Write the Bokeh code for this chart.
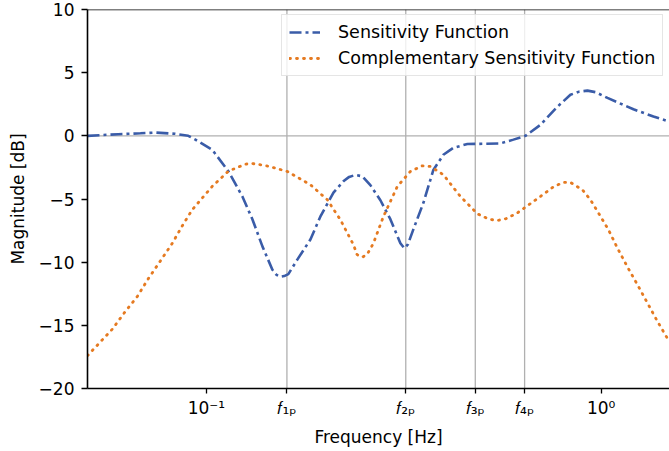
from bokeh.plotting import figure
from bokeh.models import Span, FixedTicker, Legend, LegendItem
from bokeh.embed import file_html
from bokeh.resources import INLINE

# Sensitivity function (blue, dash-dot)
freq_s = [0.050, 0.0598, 0.0681, 0.0743, 0.0834, 0.0900, 0.0938, 0.1035, 0.1137,
          0.1234, 0.1308, 0.1387, 0.1470, 0.1505, 0.1540, 0.1575, 0.1613, 0.1700,
          0.1835, 0.1944, 0.2099, 0.2224, 0.2300, 0.2384, 0.2484, 0.2603, 0.2760,
          0.2925, 0.3101, 0.3173, 0.3240, 0.3345, 0.3547, 0.3759, 0.3985, 0.4224,
          0.4584, 0.5031, 0.5556, 0.5995, 0.6431, 0.7018, 0.7749, 0.8360, 0.8800,
          0.9232, 0.9700, 1.0376, 1.2072, 1.3568, 1.4894]
sens_db = [0.0, 0.13, 0.2, 0.26, 0.16, 0.0, -0.3, -1.1, -2.8,
           -4.8, -6.6, -8.75, -10.6, -11.0, -11.15, -11.1, -10.95, -9.8,
           -8.2, -6.4, -4.5, -3.6, -3.25, -3.1, -3.2, -3.9, -5.1,
           -6.6, -8.5, -8.9, -8.6, -7.4, -5.3, -2.7, -1.5, -0.95,
           -0.65, -0.63, -0.6, -0.3, 0.0, 0.87, 2.3, 3.25, 3.5,
           3.58, 3.45, 3.0, 2.1, 1.53, 1.13]

# Complementary sensitivity function (orange, dotted)
freq_t = [0.050, 0.0532, 0.0578, 0.0620, 0.0669, 0.0713, 0.0765, 0.0820, 0.0870,
          0.0921, 0.1035, 0.1137, 0.1256, 0.1308, 0.1436, 0.1603, 0.1835, 0.2025,
          0.2185, 0.2357, 0.2408, 0.2484, 0.2553, 0.2650, 0.2808, 0.3047, 0.3287,
          0.3525, 0.3693, 0.3985, 0.4401, 0.4860, 0.5200, 0.5461, 0.5750, 0.6137,
          0.7018, 0.7600, 0.8026, 0.8360, 0.8966, 0.9395, 0.9844, 1.0435, 1.0997,
          1.1659, 1.2359, 1.3100, 1.3885, 1.4894]
comp_db = [-17.4, -16.5, -15.3, -14.0, -12.7, -11.3, -9.9, -8.5, -7.1,
           -5.85, -4.0, -2.8, -2.24, -2.19, -2.4, -2.82, -3.87, -5.06,
           -6.64, -8.6, -9.4, -9.6, -9.4, -8.5, -6.4, -4.0, -2.82,
           -2.37, -2.42, -3.08, -4.8, -6.17, -6.6, -6.7, -6.55, -6.1,
           -4.8, -4.0, -3.69, -3.69, -4.27, -5.06, -6.1, -7.43, -8.88,
           -10.38, -11.78, -13.23, -14.68, -16.3]

x_ticks = [0.1, 0.16, 0.32, 0.48, 0.64, 1.0]
x_tick_labels = ["10⁻¹", "𝑓₁ₚ", "𝑓₂ₚ", "𝑓₃ₚ", "𝑓₄ₚ", "10⁰"]
pole_freqs = [0.16, 0.32, 0.48, 0.64]
y_ticks = [-20, -15, -10, -5, 0, 5, 10]
y_tick_labels = ["−20", "−15", "−10", "−5", "0", "5", "10"]

FONT = "DejaVu Sans"
BLUE = "#3a5ca8"
ORANGE = "#e57a21"
GRID = "#b0b0b0"

p = figure(width=669, height=451, x_axis_type="log", x_range=(0.05, 1.49),
           y_range=(-20, 10), output_backend="svg", toolbar_location=None,
           min_border_left=87, min_border_right=0, min_border_top=9,
           min_border_bottom=63)
p.outline_line_color = None
p.grid.visible = False
p.background_fill_color = "white"
p.border_fill_color = "white"

for f in pole_freqs:
    p.add_layout(Span(location=f, dimension="height", line_color=GRID,
                      line_width=1.3, level="underlay"))
p.add_layout(Span(location=0, dimension="width", line_color=GRID,
                  line_width=1.3, level="underlay"))
# top spine
p.add_layout(Span(location=10, dimension="width", line_color="black",
                  line_width=1.6))

r1 = p.line(freq_s, sens_db, line_color=BLUE, line_width=2.6,
            line_dash="12 4 3 4")
r2 = p.line(freq_t, comp_db, line_color=ORANGE, line_width=2.8,
            line_dash="1 6", line_cap="round")

p.xaxis.ticker = FixedTicker(ticks=x_ticks, minor_ticks=[])
p.xaxis.major_label_overrides = {t: l for t, l in zip(x_ticks, x_tick_labels)}
p.yaxis.ticker = FixedTicker(ticks=y_ticks, minor_ticks=[])
p.yaxis.major_label_overrides = {t: l for t, l in zip(y_ticks, y_tick_labels)}

for ax in (p.xaxis[0], p.yaxis[0]):
    ax.axis_line_color = "black"
    ax.axis_line_width = 1.6
    ax.major_tick_line_color = "black"
    ax.major_tick_line_width = 1.3
    ax.major_tick_in = 0
    ax.minor_tick_line_color = None
    ax.major_label_text_font = FONT
    ax.major_label_text_font_size = "17px"
    ax.major_label_text_color = "black"
    ax.axis_label_text_font = FONT
    ax.axis_label_text_font_size = "17px"
    ax.axis_label_text_font_style = "normal"
    ax.axis_label_text_color = "black"

p.xaxis.major_tick_out = 5
p.xaxis.major_label_standoff = 4
p.yaxis.major_tick_out = 6
p.yaxis.major_label_standoff = 7

p.xaxis.axis_label = "Frequency [Hz]"
p.yaxis.axis_label = "Magnitude [dB]"
p.xaxis.axis_label_standoff = 6
p.yaxis.axis_label_standoff = 8

legend = Legend(items=[LegendItem(label="Sensitivity Function", renderers=[r1]),
                       LegendItem(label="Complementary Sensitivity Function",
                                  renderers=[r2])],
                location=(194, 312))
legend.label_text_font = FONT
legend.label_text_font_size = "17.5px"
legend.label_text_color = "black"
legend.glyph_width = 31
legend.glyph_height = 20
legend.label_height = 20
legend.label_standoff = 18
legend.padding = 7
legend.spacing = 6
legend.margin = 0
legend.border_line_color = "#cccccc"
legend.border_line_width = 1.3
legend.background_fill_alpha = 0.8
p.add_layout(legend)

open("out.html", "w").write(file_html(p, INLINE))
